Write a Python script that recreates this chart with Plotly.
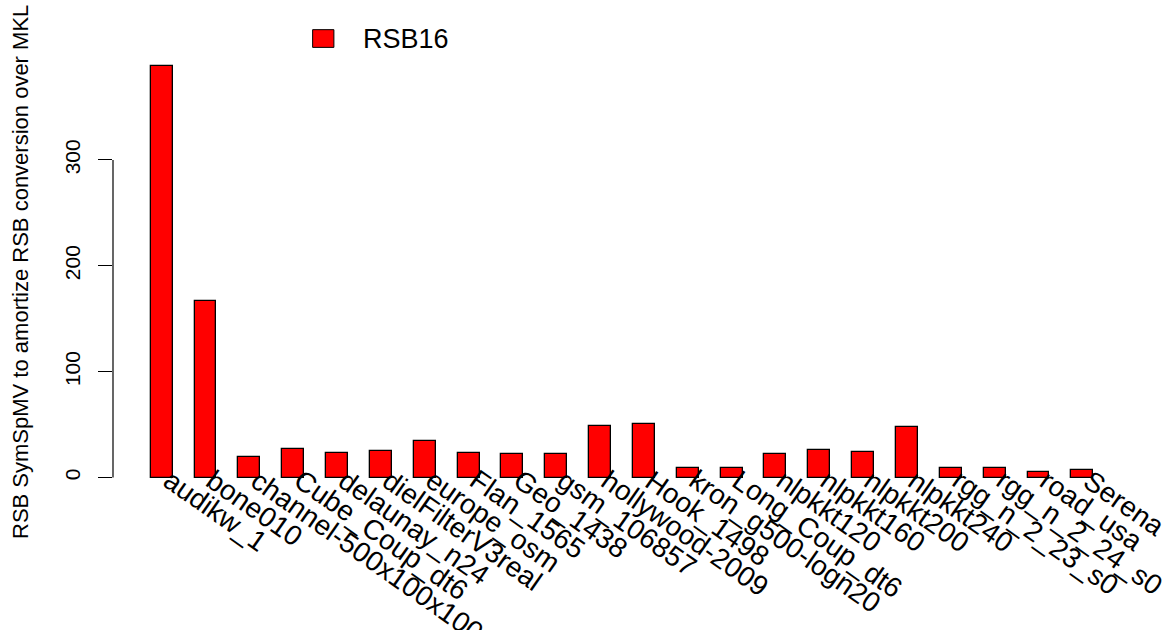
import plotly.graph_objects as go

# Matrices and the RSB16 speedup-amortization ratios
matrices = [
    "audikw_1", "bone010", "channel-500x100x100-b050", "Cube_Coup_dt6",
    "delaunay_n24", "dielFilterV3real", "europe_osm", "Flan_1565",
    "Geo_1438", "gsm_106857", "hollywood-2009", "Hook_1498",
    "kron_g500-logn20", "Long_Coup_dt6", "nlpkkt120", "nlpkkt160",
    "nlpkkt200", "nlpkkt240", "rgg_n_2_23_s0", "rgg_n_2_24_s0",
    "road_usa", "Serena",
]
rsb16 = [
    388.3, 167.1, 19.4, 26.9, 22.9, 24.8, 34.8, 22.9, 22.2, 22.2, 48.7,
    50.3, 8.7, 8.7, 22.2, 26.3, 24.1, 48.0, 8.7, 9.3, 4.9, 6.8,
]
y_ticks = [0, 100, 200, 300]
series_name = "RSB16"
y_title = "RSB SymSpMV to amortize RSB conversion over MKL"

FONT = "Liberation Sans, Arial, Helvetica, sans-serif"
RED = "#ff0000"

# barplot-style layout: unit-width bars separated by unit gaps
n = len(rsb16)
centers = [1.5 + 2 * i for i in range(n)]
left_edge, right_edge = centers[0] - 0.5, centers[-1] + 0.5
xpad = 0.04 * (right_edge - left_edge)
ymax = max(rsb16)
ypad = 0.04 * ymax

fig = go.Figure()
fig.add_trace(go.Bar(
    x=centers, y=rsb16, width=1.0, name=series_name,
    marker=dict(color=RED, line=dict(color="black", width=1.3)),
    showlegend=False,
))

# rotated category labels hanging below the bars
for xc, lab in zip(centers, matrices):
    fig.add_annotation(
        x=xc, y=0, xref="x", yref="y", text=lab, showarrow=False,
        textangle=35, xanchor="left", yanchor="top",
        xshift=-7, yshift=16,
        font=dict(family=FONT, size=28, color="black"),
    )

# y-axis line spanning only the tick range
fig.add_shape(
    type="line", xref="paper", yref="y", x0=0, x1=0,
    y0=min(y_ticks), y1=max(y_ticks),
    line=dict(color="black", width=1.2),
)

# legend key
fig.add_shape(
    type="rect", xref="paper", yref="paper",
    x0=0.1961, x1=0.2170, y0=1.0059, y1=1.0458,
    fillcolor=RED, line=dict(color="black", width=1),
)
fig.add_annotation(
    x=0.2432, y=1.0237, xref="paper", yref="paper", text=series_name,
    showarrow=False, xanchor="left", yanchor="middle",
    font=dict(family=FONT, size=27, color="black"),
)

# y-axis title
fig.add_annotation(
    x=0, y=0.5, xref="paper", yref="paper", text=y_title,
    showarrow=False, textangle=-90, xanchor="center", yanchor="middle",
    xshift=-93, font=dict(family=FONT, size=22, color="black"),
)

fig.update_layout(
    width=1176, height=630,
    margin=dict(l=113, r=45, t=50, b=136),
    paper_bgcolor="white", plot_bgcolor="white",
    bargap=0,
    xaxis=dict(
        range=[left_edge - xpad, right_edge + xpad],
        showticklabels=False, ticks="", showgrid=False, zeroline=False,
        showline=False,
    ),
    yaxis=dict(
        range=[-ypad, ymax + ypad],
        tickvals=y_ticks, ticktext=[str(t) for t in y_ticks],
        ticks="outside", ticklen=14, tickwidth=1.2, tickcolor="black",
        tickangle=-90, ticklabelstandoff=10,
        showgrid=False, zeroline=False, showline=False,
        tickfont=dict(family=FONT, size=21, color="black"),
    ),
)

fig.write_html("out.html")
